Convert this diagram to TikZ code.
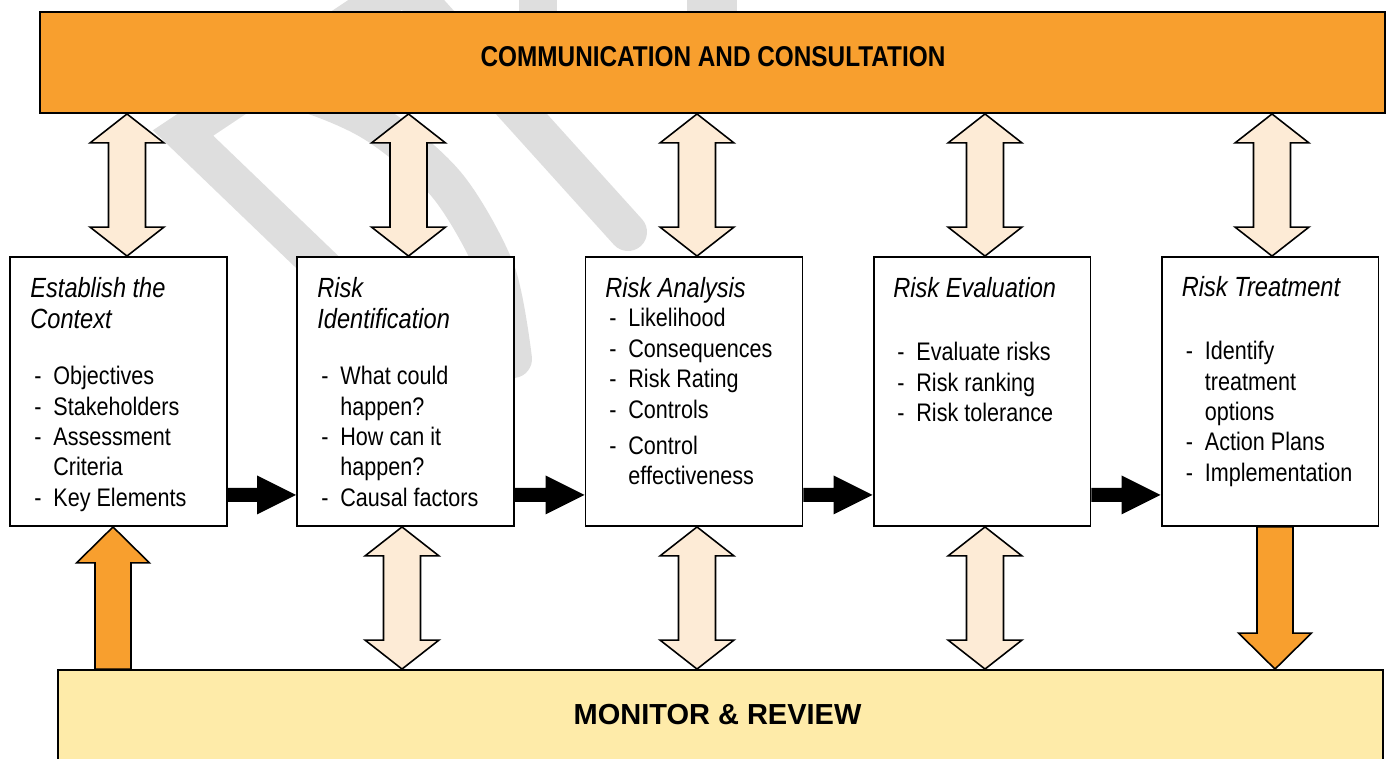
\documentclass[tikz,border=0pt]{standalone}
\usepackage{fontspec}
\setmainfont{Liberation Sans}[FakeStretch=0.85]
\newfontfamily\widesans{Liberation Sans}
\usetikzlibrary{calc}
\definecolor{commorange}{HTML}{F89F2E}
\definecolor{peach}{HTML}{FDEBD6}
\definecolor{monyellow}{HTML}{FEEBA9}
\definecolor{markgray}{HTML}{DEDEDE}
\begin{document}
\begin{tikzpicture}[x=0.02cm, y=-0.02cm,
    bar/.style={draw, line width=1.1pt, minimum height=2.02cm, inner sep=0pt},
    stepbox/.style={draw, fill=white, line width=1.1pt, minimum width=4.34cm, minimum height=5.38cm, inner sep=0pt},
    steptext/.style={anchor=north west, align=left, inner sep=0pt, font=\fontsize{14.45}{17.3}\selectfont},
    twoway/.style={draw, line width=0.9pt, fill=peach},
    oneway/.style={draw, line width=0.9pt, fill=commorange},
    flow/.style={fill=black},
    wmark/.style={draw=markgray, line width=0.76cm, line cap=round}]
        \def\steptitle#1{{\fontsize{15.8}{17.3}\selectfont\itshape #1}}
        \def\stepentry#1{\hspace*{0.08cm}\makebox[0.38cm][l]{-}#1}
        \def\stepcont#1{\hspace*{0.46cm}#1}
        \def\twowayarrow#1#2#3{\draw[twoway] let \p1=(#1), \p2=(#2), \p3=(#3) in
            (\x3,\y1) -- (\x3+0.74cm,\y1-0.58cm) -- (\x3+0.37cm,\y1-0.58cm)
            -- (\x3+0.37cm,\y2+0.58cm) -- (\x3+0.74cm,\y2+0.58cm) -- (\x3,\y2)
            -- (\x3-0.74cm,\y2+0.58cm) -- (\x3-0.37cm,\y2+0.58cm)
            -- (\x3-0.37cm,\y1-0.58cm) -- (\x3-0.74cm,\y1-0.58cm) -- cycle ;}
        \def\risearrow#1#2#3{\draw[oneway] let \p1=(#1), \p2=(#2), \p3=(#3) in
            (\x3-0.36cm,\y1) -- (\x3-0.36cm,\y2-0.72cm) -- (\x3-0.73cm,\y2-0.72cm) -- (\x3,\y2)
            -- (\x3+0.73cm,\y2-0.72cm) -- (\x3+0.36cm,\y2-0.72cm) -- (\x3+0.36cm,\y1) -- cycle ;}
        \def\droparrow#1#2#3{\draw[oneway] let \p1=(#1), \p2=(#2), \p3=(#3) in
            (\x3-0.36cm,\y1) -- (\x3-0.36cm,\y2+0.72cm) -- (\x3-0.73cm,\y2+0.72cm) -- (\x3,\y2)
            -- (\x3+0.73cm,\y2+0.72cm) -- (\x3+0.36cm,\y2+0.72cm) -- (\x3+0.36cm,\y1) -- cycle ;}
        \def\steparrow#1#2{\fill[flow] let \p1=([yshift=0.64cm]#1.south east), \p2=([yshift=0.64cm]#2.south west) in
            (\x1,\y1+0.14cm) -- (\x2-0.78cm,\y1+0.14cm) -- (\x2-0.78cm,\y1+0.39cm) -- (\x2,\y1)
            -- (\x2-0.78cm,\y1-0.39cm) -- (\x2-0.78cm,\y1-0.14cm) -- (\x1,\y1-0.14cm) -- cycle ;}

        \useasboundingbox (0,0) rectangle (1392,758) ;

        % grey strokes behind everything
        \draw [wmark] (362,305) -- (183,133) -- (405,-15) -- (628,232) ;
        \draw [wmark] plot [smooth] coordinates {(175,85) (275,85) (369,120) (446,184) (496,271) (513,359)} ;
        \draw [wmark] (538,-30) -- (538,60) ;
        \draw [wmark, line width=1cm] (712,-30) -- (712,60) ;

        \node [bar, fill=commorange, minimum width=26.9cm] (comm) at (712.5,62.5) {} ;
        \node [font=\fontsize{16.3}{18}\selectfont\bfseries] (comm-label) at (713,57) {COMMUNICATION AND CONSULTATION} ;
        \node [bar, fill=monyellow, minimum width=26.5cm, minimum height=2.4cm] (mon) at (720.5,730) {} ;
        \node [font=\widesans\fontsize{16.5}{19}\selectfont\bfseries] (mon-label) at (717.5,715) {MONITOR \& REVIEW} ;

        \node [stepbox] (context) at (118.5,391.5) {} ;
        \node [stepbox] (identify) at (405.5,391.5) {} ;
        \node [stepbox] (analysis) at (694,391.5) {} ;
        \node [stepbox] (evaluation) at (982,391.5) {} ;
        \node [stepbox] (treatment) at (1270,391.5) {} ;

        \node [steptext] (context-text) at ([shift={(0.42cm,-0.41cm)}]context.north west)
            {\steptitle{Establish the}\\[0.85pt]\steptitle{Context}\\[14.45pt]\stepentry{Objectives}\\\stepentry{Stakeholders}\\\stepentry{Assessment}\\\stepcont{Criteria}\\\stepentry{Key Elements}} ;
        \node [steptext] (identify-text) at ([shift={(0.42cm,-0.41cm)}]identify.north west)
            {\steptitle{Risk}\\[0.85pt]\steptitle{Identification}\\[14.45pt]\stepentry{What could}\\\stepcont{happen?}\\\stepentry{How can it}\\\stepcont{happen?}\\\stepentry{Causal factors}} ;
        \node [steptext] (analysis-text) at ([shift={(0.41cm,-0.41cm)}]analysis.north west)
            {\steptitle{Risk Analysis}\\[-0.3pt]\stepentry{Likelihood}\\\stepentry{Consequences}\\\stepentry{Risk Rating}\\\stepentry{Controls}\\[3.4pt]\stepentry{Control}\\\stepcont{effectiveness}} ;
        \node [steptext] (evaluation-text) at ([shift={(0.41cm,-0.41cm)}]evaluation.north west)
            {\steptitle{Risk Evaluation}\\[19pt]\stepentry{Evaluate risks}\\\stepentry{Risk ranking}\\\stepentry{Risk tolerance}} ;
        \node [steptext] (treatment-text) at ([shift={(0.42cm,-0.39cm)}]treatment.north west)
            {\steptitle{Risk Treatment}\\[19pt]\stepentry{Identify}\\\stepcont{treatment}\\\stepcont{options}\\\stepentry{Action Plans}\\\stepentry{Implementation}} ;

        \twowayarrow{comm.south}{context.north}{[xshift=0.17cm]context.north}
        \twowayarrow{comm.south}{identify.north}{[xshift=0.06cm]identify.north}
        \twowayarrow{comm.south}{analysis.north}{[xshift=0.06cm]analysis.north}
        \twowayarrow{comm.south}{evaluation.north}{[xshift=0.06cm]evaluation.north}
        \twowayarrow{comm.south}{treatment.north}{[xshift=0.04cm]treatment.north}

        \twowayarrow{identify.south}{mon.north}{[xshift=-0.07cm]identify.south}
        \twowayarrow{analysis.south}{mon.north}{[xshift=0.06cm]analysis.south}
        \twowayarrow{evaluation.south}{mon.north}{[xshift=0.06cm]evaluation.south}

        \risearrow{mon.north}{context.south}{[xshift=-0.11cm]context.south}
        \droparrow{treatment.south}{mon.north}{[xshift=0.1cm]treatment.south}

        \steparrow{context}{identify}
        \steparrow{identify}{analysis}
        \steparrow{analysis}{evaluation}
        \steparrow{evaluation}{treatment}
      \end{tikzpicture}
\end{document}
